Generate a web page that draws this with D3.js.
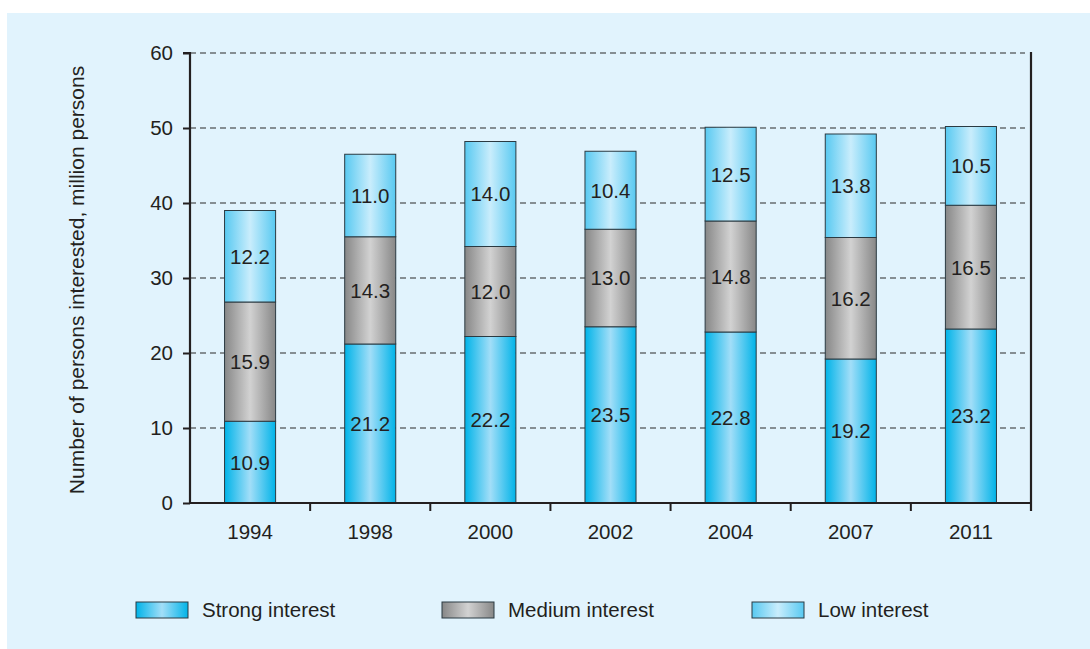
<!DOCTYPE html>
<html>
<head>
<meta charset="utf-8">
<script src="https://cdn.jsdelivr.net/npm/d3@7"></script>
<style>
  html, body { margin: 0; padding: 0; background: #ffffff; }
  svg { display: block; font-family: "Liberation Sans", Arial, sans-serif; }
</style>
</head>
<body>
<svg id="chart" width="1090" height="649"></svg>
<script>
// Persons interested, million persons, by year and level of interest
const years = ["1994", "1998", "2000", "2002", "2004", "2007", "2011"];
const strongInterest = [10.9, 21.2, 22.2, 23.5, 22.8, 19.2, 23.2];
const mediumInterest = [15.9, 14.3, 12.0, 13.0, 14.8, 16.2, 16.5];
const lowInterest = [12.2, 11.0, 14.0, 10.4, 12.5, 13.8, 10.5];
const seriesNames = ["Strong interest", "Medium interest", "Low interest"];
const yTicks = [0, 10, 20, 30, 40, 50, 60];

const rows = years.map((y, i) => ({
  year: y,
  "Strong interest": strongInterest[i],
  "Medium interest": mediumInterest[i],
  "Low interest": lowInterest[i]
}));

const FS = 20.5;
const ink = "#231f20";

const svg = d3.select("#chart");
const W = 1090, H = 649;
const margin = { left: 190, right: 59, top: 53, bottom: 146 };
const plotW = W - margin.left - margin.right;
const plotH = H - margin.top - margin.bottom;

// panel background
svg.append("rect").attr("x", 7).attr("y", 13).attr("width", W - 7).attr("height", H - 13)
  .attr("fill", "#e1f3fd");

// gradients for the cylinder-like bars
const defs = svg.append("defs");
const gradStops = {
  "Strong interest": ["#00b3e8", "#a2def8", "#00b3e8"],
  "Medium interest": ["#878787", "#d2d2d2", "#878787"],
  "Low interest": ["#58c9f1", "#c9edfc", "#58c9f1"]
};
const gradId = {};
seriesNames.forEach((s, k) => {
  const id = "grad" + k;
  gradId[s] = id;
  const g = defs.append("linearGradient").attr("id", id)
    .attr("x1", "0%").attr("x2", "100%").attr("y1", "0%").attr("y2", "0%");
  const c = gradStops[s];
  g.append("stop").attr("offset", "0%").attr("stop-color", c[0]);
  g.append("stop").attr("offset", "50%").attr("stop-color", c[1]);
  g.append("stop").attr("offset", "100%").attr("stop-color", c[2]);
});

const x = d3.scaleBand().domain(years).range([margin.left, margin.left + plotW])
  .paddingInner(0.575).paddingOuter(0.2875);
const y = d3.scaleLinear().domain([0, 60]).range([margin.top + plotH, margin.top]);

// dashed gridlines
svg.append("g").selectAll("line").data(yTicks.filter(t => t > 0)).join("line")
  .attr("x1", margin.left).attr("x2", margin.left + plotW - 6)
  .attr("y1", d => y(d)).attr("y2", d => y(d))
  .attr("stroke", "#2a2a2a").attr("stroke-width", 1.1).attr("stroke-dasharray", "6,4");

// stacked bars
const stack = d3.stack().keys(seriesNames);
const layers = stack(rows);
const layerG = svg.append("g").selectAll("g").data(layers).join("g")
  .attr("fill", d => `url(#${gradId[d.key]})`);
layerG.selectAll("rect").data(d => d).join("rect")
  .attr("x", d => x(d.data.year))
  .attr("width", x.bandwidth())
  .attr("y", d => y(d[1]))
  .attr("height", d => y(d[0]) - y(d[1]))
  .attr("stroke", "#2b3a42").attr("stroke-width", 1);

// value labels
layerG.each(function(layer) {
  d3.select(this).selectAll("text").data(layer).join("text")
    .attr("x", d => x(d.data.year) + x.bandwidth() / 2)
    .attr("y", d => (y(d[0]) + y(d[1])) / 2)
    .attr("dy", "0.36em")
    .attr("text-anchor", "middle")
    .attr("font-size", FS).attr("fill", ink)
    .text(d => d.data[layer.key].toFixed(1));
});

// y axis
const yAxis = d3.axisLeft(y).tickValues(yTicks).tickSize(7).tickPadding(10);
const yg = svg.append("g").attr("transform", `translate(${margin.left},0)`).call(yAxis);
yg.select(".domain").attr("stroke", ink).attr("stroke-width", 2.2)
  .attr("d", `M-7,${y(60)}H0V${y(0)}`);
yg.selectAll(".tick line").attr("stroke", ink).attr("stroke-width", 2);
yg.selectAll(".tick text").attr("font-size", FS).attr("fill", ink)
  .attr("font-family", "Liberation Sans, Arial, sans-serif");

// right frame line
svg.append("line").attr("x1", margin.left + plotW).attr("x2", margin.left + plotW)
  .attr("y1", y(60) - 1).attr("y2", y(0) + 8)
  .attr("stroke", ink).attr("stroke-width", 2.2);

// x axis with ticks between categories
const xg = svg.append("g").attr("transform", `translate(0,${y(0)})`);
xg.append("line").attr("x1", margin.left).attr("x2", margin.left + plotW)
  .attr("stroke", ink).attr("stroke-width", 2.2);
const step = x.step();
const boundaries = d3.range(1, years.length).map(i => margin.left + i * step);
xg.selectAll("line.tk").data(boundaries).join("line").attr("class", "tk")
  .attr("x1", d => d).attr("x2", d => d).attr("y1", 0).attr("y2", 8)
  .attr("stroke", ink).attr("stroke-width", 2);
xg.selectAll("text").data(years).join("text")
  .attr("x", d => x(d) + x.bandwidth() / 2).attr("y", 29)
  .attr("dy", "0.36em").attr("text-anchor", "middle")
  .attr("font-size", FS).attr("fill", ink).text(d => d);

// y axis title
svg.append("text")
  .attr("transform", `translate(84,${margin.top + plotH / 2 + 2}) rotate(-90)`)
  .attr("text-anchor", "middle").attr("font-size", 21).attr("fill", ink)
  .text("Number of persons interested, million persons");

// legend
const legendX = [136, 442, 752];
const lg = svg.append("g").selectAll("g").data(seriesNames).join("g")
  .attr("transform", (d, i) => `translate(${legendX[i]},602)`);
lg.append("rect").attr("width", 52).attr("height", 16)
  .attr("fill", d => `url(#${gradId[d]})`).attr("stroke", "#2b3a42").attr("stroke-width", 1);
lg.append("text").attr("x", 66).attr("y", 8).attr("dy", "0.36em")
  .attr("font-size", FS).attr("fill", ink).text(d => d);
</script>
</body>
</html>
